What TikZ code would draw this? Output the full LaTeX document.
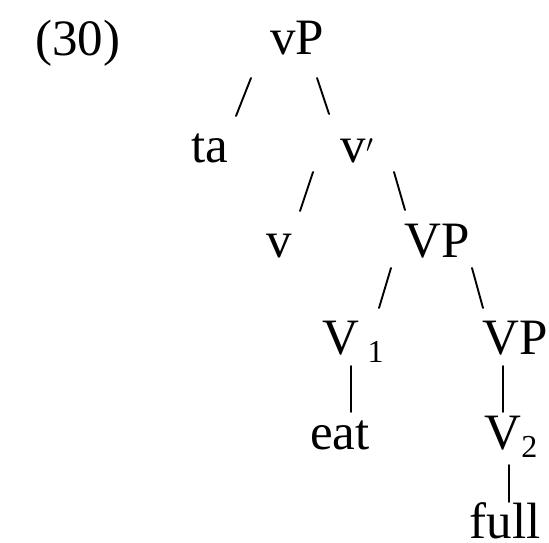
\documentclass[tikz,border=0pt]{standalone}
\usepackage{fontspec}
\setmainfont{Liberation Serif}
\newcommand{\idx}[1]{\raisebox{-8pt}{\fontsize{32}{34}\selectfont #1}}

\begin{document}
\begin{tikzpicture}[x=1pt, y=-1pt,
  cat/.style={anchor=base, inner sep=0pt, font=\fontsize{51}{56}\selectfont},
  branch/.style={line width=1.9pt, line cap=round}]
  \useasboundingbox (0,0) rectangle (549,543);
  \node[cat] (ex)  at (78,56)   {(30)};
  \node[cat] (vP)  at (297,55)  {vP};
  \node[cat] (ta)  at (210,162) {ta};
  \node[cat] (vb)  at (357,162) {v$'$};
  \node[cat] (v)   at (279,257) {v};
  \node[cat] (VP)  at (437,257) {VP};
  \node[cat] (Va)  at (353,354) {V\,\idx{1}};
  \node[cat] (VPb) at (515,354) {VP};
  \node[cat] (eat) at (340,449) {eat};
  \node[cat] (Vb)  at (511,449) {V\idx{2}};
  \node[cat] (ful) at (505,538) {full};
  % branches
  \draw[branch] ([shift={(-46,23)}]vP.base) -- ([shift={(26,-46)}]ta.base);
  \draw[branch] ([shift={(20,23)}]vP.base)  -- ([shift={(-28,-48)}]vb.base);
  \draw[branch] ([shift={(-44,10)}]vb.base) -- ([shift={(21,-46)}]v.base);
  \draw[branch] ([shift={(37,10)}]vb.base)  -- ([shift={(-32,-47)}]VP.base);
  \draw[branch] ([shift={(-46,11)}]VP.base) -- ([shift={(26,-46)}]Va.base);
  \draw[branch] ([shift={(35,11)}]VP.base)  -- ([shift={(-32,-46)}]VPb.base);
  \draw[branch] ([shift={(-2,12)}]Va.base)  -- ([shift={(11,-37)}]eat.base);
  \draw[branch] ([shift={(-12,12)}]VPb.base) -- ([shift={(-8,-37)}]Vb.base);
  \draw[branch] ([shift={(-2,16)}]Vb.base)  -- ([shift={(4,-36)}]ful.base);
\end{tikzpicture}
\end{document}
